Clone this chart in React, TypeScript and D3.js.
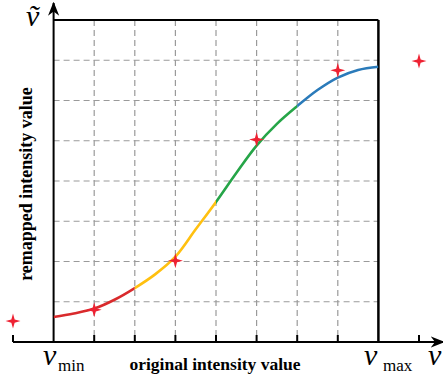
import React from "react";
import * as d3 from "d3";

// curve samples (x in grid units, y in grid units)
const curveX = [0, 0.5, 1, 1.5, 2, 2.5, 3, 3.5, 4, 4.5, 5, 5.5, 6, 6.5, 7, 7.5, 8];
const curveY = [0.62, 0.71, 0.83, 1.05, 1.34, 1.68, 2.12, 2.8, 3.48, 4.2, 4.88, 5.42, 5.86, 6.26, 6.57, 6.76, 6.84];
// red control points
const pointX = [-1, 1, 3, 5, 7, 9];
const pointY = [0.52, 0.8, 2.02, 5.03, 6.75, 6.98];
// segments of the curve
const segStart = [0, 2, 4, 6];
const segEnd = [2, 4, 6, 8];
const segColors = ["#d92a2c", "#ffc010", "#26a548", "#2b7bba"];
const xTicks = [-1, 1, 2, 3, 4, 5, 6, 7, 9];
const xGrid = [1, 2, 3, 4, 5, 6, 7];
const yGrid = [1, 2, 3, 4, 5, 6, 7];

const W = 443;
const H = 381;

const star4 = {
  draw(ctx: any, size: number) {
    const r = Math.sqrt(size);
    const w = r * 0.22;
    ctx.moveTo(0, -r);
    ctx.lineTo(w, -w);
    ctx.lineTo(r, 0);
    ctx.lineTo(w, w);
    ctx.lineTo(0, r);
    ctx.lineTo(-w, w);
    ctx.lineTo(-r, 0);
    ctx.lineTo(-w, -w);
    ctx.closePath();
  },
};

export default function App() {
  const x = d3.scaleLinear().domain([-1, 9]).range([13, 419]);
  const y = d3.scaleLinear().domain([0, 8]).range([342, 20]);
  const data = curveX.map((v, i) => [v, curveY[i]] as [number, number]);
  const line = d3
    .line<[number, number]>()
    .x((d) => x(d[0]))
    .y((d) => y(d[1]))
    .curve(d3.curveCatmullRom.alpha(0.5));
  const pathD = line(data) || "";
  const starPath = d3.symbol().type(star4 as any).size(56)() || "";
  const serif = "'Liberation Serif', 'Times New Roman', Times, serif";

  return (
    <svg
      width={W}
      height={H}
      style={{ position: "absolute", left: 0, top: 0, background: "#fff" }}
      fontFamily={serif}
    >
      <defs>
        {segStart.map((s, i) => (
          <clipPath id={"seg" + i} key={i}>
            <rect x={x(s)} y={0} width={x(segEnd[i]) - x(s)} height={H} />
          </clipPath>
        ))}
        <marker id="arrow" viewBox="0 0 10 10" refX="9" refY="5" markerWidth="7" markerHeight="7" orient="auto">
          <path d="M0,1 L10,5 L0,9 L3,5 Z" fill="#000" />
        </marker>
      </defs>

      {/* grid */}
      {xGrid.map((g) => (
        <line key={"gx" + g} x1={x(g)} x2={x(g)} y1={y(8)} y2={y(0)} stroke="#9a9a9a" strokeWidth={1.2} strokeDasharray="6,4" />
      ))}
      {yGrid.map((g) => (
        <line key={"gy" + g} x1={x(0)} x2={x(8)} y1={y(g)} y2={y(g)} stroke="#9a9a9a" strokeWidth={1.2} strokeDasharray="6,4" />
      ))}

      {/* frame */}
      <line x1={x(0)} x2={x(8)} y1={y(8)} y2={y(8)} stroke="#000" strokeWidth={2} />
      <line x1={x(8)} x2={x(8)} y1={y(8)} y2={y(0)} stroke="#000" strokeWidth={2.5} />

      {/* axes */}
      <line x1={x(-1)} x2={x(9.6)} y1={y(0)} y2={y(0)} stroke="#000" strokeWidth={2} markerEnd="url(#arrow)" />
      <line x1={x(0)} x2={x(0)} y1={y(0)} y2={y(8.42)} stroke="#000" strokeWidth={2} markerEnd="url(#arrow)" />
      {xTicks.map((t) => (
        <line key={"t" + t} x1={x(t)} x2={x(t)} y1={y(0)} y2={y(0) - 7} stroke="#000" strokeWidth={2} />
      ))}

      {/* curve */}
      {segStart.map((s, i) => (
        <path key={"c" + i} d={pathD} fill="none" stroke={segColors[i]} strokeWidth={2.6} clipPath={`url(#seg${i})`} />
      ))}

      {/* points */}
      {pointX.map((px, i) => (
        <path key={"p" + i} d={starPath} transform={`translate(${x(px)},${y(pointY[i])})`} fill="#ee2233" />
      ))}

      {/* labels */}
      <text x={26} y={26} fontSize={30} fontStyle="italic">ṽ</text>

      <text x={43} y={365} fontSize={30} fontStyle="italic">v</text>
      <text x={58} y={371} fontSize={17}>min</text>
      <text x={215} y={370} fontSize={17.5} fontWeight="bold" textAnchor="middle">original intensity value</text>

      <text x={364} y={365} fontSize={30} fontStyle="italic">v</text>
      <text x={383} y={371} fontSize={17}>max</text>
      <text x={428} y={365} fontSize={30} fontStyle="italic">v</text>

      <text
        transform={`translate(32,${184}) rotate(-90)`}
        fontSize={18}
        fontWeight="bold"
        textAnchor="middle"
      >
        remapped intensity value
      </text>
    </svg>
  );
}
